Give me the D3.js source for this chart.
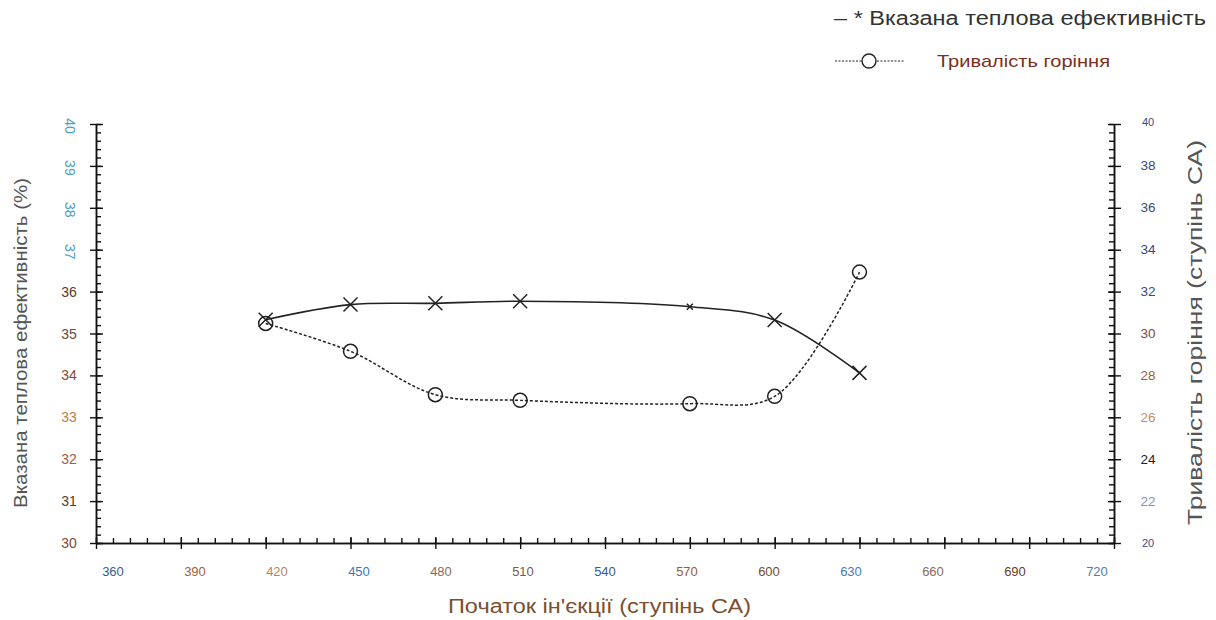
<!DOCTYPE html>
<html><head><meta charset="utf-8">
<script src="https://cdn.jsdelivr.net/npm/d3@7"></script>
<style>body{margin:0;background:#fff}svg{display:block;font-family:"Liberation Sans",Arial,sans-serif}</style>
</head><body><svg id="c" width="1216" height="620"></svg>
<script>
const injection = [420, 450, 480, 510, 570, 600, 630];
const efficiency = [35.33, 35.69, 35.72, 35.77, 35.64, 35.32, 34.06];
const duration = [30.48, 29.15, 27.08, 26.81, 26.65, 27.0, 32.93];
const xTicks = [360, 390, 420, 450, 480, 510, 540, 570, 600, 630, 660, 690, 720];
const xTickColors = ["#3a5a8a","#a0603a","#c08060","#3a7ab0","#8a6a5a","#7a5a4a","#3a5a8a","#9a5a3a","#7a4a2a","#4a7ab0","#8a6a5a","#6a3a2a","#4a80b0"];
const leftTicks = [30,31,32,33,34,35,36,37,38,39,40];
const leftTickColors = ["#8a4a2a","#5a3a2a","#a06040","#c08040","#8a4a2a","#6a4a3a","#5a3a2a","#4aa0c8","#4aa0c8","#4aa0c8","#4aa0c8"];
const rightTicks = [20,22,24,26,28,30,32,34,36,38,40];
const rightTickColors = ["#3a4a80","#8a90b0","#222222","#c09060","#a06030","#7a4a3a","#3a4a80","#3a4a80","#3a4a80","#3a4a80","#3a4a80"];

const svg = d3.select("#c");
const L = 96, R = 1114, T = 124, B = 543;
const x = d3.scaleLinear().domain([360, 720]).range([L, R]);
const xLab = d3.scaleLinear().domain([360, 720]).range([113, 1097]);
const yL = d3.scaleLinear().domain([30, 40]).range([B, T]);
const yR = d3.scaleLinear().domain([20, 40]).range([B, T]);

function styleAxis(g){ g.select(".domain").attr("stroke","#111").attr("stroke-width",1.5); g.selectAll(".tick line").attr("stroke","#111").attr("stroke-width",1.4); g.selectAll("text").remove(); }

// X axis minor
svg.append("g").attr("transform",`translate(0,${B})`)
  .call(d3.axisBottom(x).tickValues(d3.range(360,721,6)).tickSize(-5).tickSizeOuter(0)).call(styleAxis);
svg.append("g").attr("transform",`translate(0,${B})`)
  .call(d3.axisBottom(x).tickValues(xTicks).tickSize(6).tickSizeOuter(0)).call(styleAxis)
  .selectAll(".tick line").attr("y1",-6);
// Left axis
svg.append("g").attr("transform",`translate(${L},0)`)
  .call(d3.axisLeft(yL).tickValues(d3.range(30,40.01,0.2)).tickSize(-5).tickSizeOuter(0)).call(styleAxis);
svg.append("g").attr("transform",`translate(${L},0)`)
  .call(d3.axisLeft(yL).tickValues(leftTicks).tickSize(6).tickSizeOuter(0)).call(styleAxis)
  .selectAll(".tick line").attr("x1",7);
// Right axis
svg.append("g").attr("transform",`translate(${R},0)`)
  .call(d3.axisRight(yR).tickValues(d3.range(20,40.01,0.4)).tickSize(-5).tickSizeOuter(0)).call(styleAxis);
svg.append("g").attr("transform",`translate(${R},0)`)
  .call(d3.axisRight(yR).tickValues(rightTicks).tickSize(7).tickSizeOuter(0)).call(styleAxis)
  .selectAll(".tick line").attr("x1",-6);

// tick labels
svg.append("g").selectAll("text").data(xTicks).join("text")
  .attr("x",d=>xLab(d)).attr("y",B+33).attr("text-anchor","middle")
  .attr("font-size",13).attr("fill",(d,i)=>xTickColors[i]).text(d=>d);
svg.append("g").selectAll("text").data(leftTicks).join("text")
  .attr("font-size",14).attr("fill",(d,i)=>leftTickColors[i])
  .attr("text-anchor","middle").attr("dominant-baseline","central")
  .attr("transform",d=> d>=37 ? `translate(70,${yL(d)+2}) rotate(90)` : `translate(69,${yL(d)})`)
  .text(d=>d);
svg.append("g").selectAll("text").data(rightTicks).join("text")
  .attr("font-size",d=>d===40||d===20?11:13.5).attr("fill",(d,i)=>rightTickColors[i])
  .attr("text-anchor","middle").attr("dominant-baseline","central")
  .attr("x",1148).attr("y",d=>yR(d)-(d===40?2:0)).text(d=>d);

// titles
svg.append("text").attr("transform","translate(27,508) rotate(-90)")
  .attr("font-size",17.5).attr("fill","#555")
  .attr("textLength",330).attr("lengthAdjust","spacingAndGlyphs").text("Вказана теплова ефективність (%)");
svg.append("text").attr("transform","translate(1202,525) rotate(-90)")
  .attr("font-size",21).attr("fill","#555")
  .attr("textLength",385).attr("lengthAdjust","spacingAndGlyphs").text("Тривалість горіння (ступінь СА)");
svg.append("text").attr("x",448).attr("y",613)
  .attr("font-size",20).attr("fill","#7a5030")
  .attr("textLength",303).attr("lengthAdjust","spacingAndGlyphs").text("Початок ін'єкції (ступінь СА)");

// lines
const effLine = d3.line().x((d,i)=>x(injection[i])).y(d=>yL(d)).curve(d3.curveCatmullRom.alpha(0.5));
const durLine = d3.line().x((d,i)=>x(injection[i])).y(d=>yR(d)).curve(d3.curveCatmullRom.alpha(0.5));
svg.append("path").attr("d",effLine(efficiency)).attr("fill","none").attr("stroke","#222").attr("stroke-width",1.6);
svg.append("path").attr("d",durLine(duration)).attr("fill","none").attr("stroke","#222").attr("stroke-width",1.5).attr("stroke-dasharray","3,2");

// markers
const xm = svg.append("g");
efficiency.forEach((v,i)=>{
  const cx = x(injection[i]), cy = yL(v), s = injection[i]===570 ? 3 : 7;
  xm.append("path").attr("d",`M${cx-s},${cy-s}L${cx+s},${cy+s}M${cx-s},${cy+s}L${cx+s},${cy-s}`)
    .attr("stroke","#222").attr("stroke-width",1.5).attr("fill","none");
});
svg.append("g").selectAll("circle").data(duration).join("circle")
  .attr("cx",(d,i)=>x(injection[i])).attr("cy",d=>yR(d)).attr("r",7)
  .attr("fill","none").attr("stroke","#222").attr("stroke-width",1.5);

// legend
svg.append("text").attr("x",834).attr("y",25).attr("font-size",20).attr("fill","#333")
  .attr("textLength",372).attr("lengthAdjust","spacingAndGlyphs")
  .text("– * Вказана теплова ефективність");
svg.append("line").attr("x1",835).attr("x2",905).attr("y1",61).attr("y2",61)
  .attr("stroke","#222").attr("stroke-width",1.2).attr("stroke-dasharray","2,1.5");
svg.append("circle").attr("cx",869).attr("cy",61).attr("r",7).attr("fill","#fff").attr("stroke","#222").attr("stroke-width",1.4);
svg.append("text").attr("x",937).attr("y",67).attr("font-size",17).attr("fill","#7a3020")
  .attr("textLength",173).attr("lengthAdjust","spacingAndGlyphs").text("Тривалість горіння");
</script></body></html>
